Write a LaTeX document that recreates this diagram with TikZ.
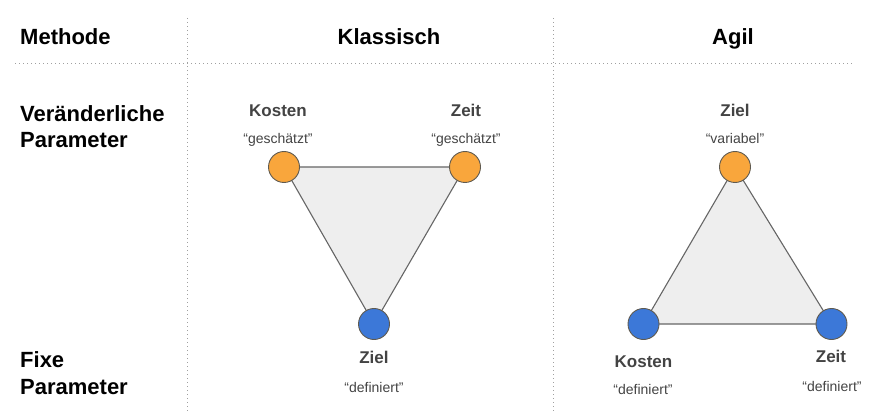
\documentclass[tikz,border=0pt]{standalone}
\usepackage{fontspec}
\setmainfont{Liberation Sans}
\usetikzlibrary{backgrounds}
\definecolor{orangefill}{HTML}{F9A63C}
\definecolor{bluefill}{HTML}{3C78D8}
\definecolor{edgegray}{HTML}{5F5A50}
\definecolor{labelgray}{HTML}{434343}
\definecolor{trifill}{HTML}{EEEEEE}
\definecolor{trigray}{HTML}{666666}
\definecolor{dotgray}{HTML}{A0A0A0}
\tikzset{
  varcirc/.style={circle,draw=edgegray,fill=orangefill,minimum size=31pt,inner sep=0pt,line width=0.9pt},
  fixcirc/.style={varcirc,fill=bluefill},
  headtext/.style={anchor=base,inner sep=0pt,font=\fontsize{22}{26}\selectfont\bfseries},
  rowtext/.style={headtext,anchor=base west},
  paramtext/.style={anchor=base,inner sep=0pt,text=labelgray,font=\fontsize{17}{20}\selectfont\bfseries},
  quotetext/.style={anchor=base,inner sep=0pt,text=labelgray,font=\fontsize{14}{17}\selectfont},
  tri/.style={draw=trigray,fill=trifill,line width=1.1pt,line join=round},
  dotline/.style={draw=dotgray,line width=1pt,dash pattern=on 1pt off 3pt}
}
\begin{document}
\begin{tikzpicture}[x=1pt,y=-1pt]
\useasboundingbox (0,0) rectangle (876,414);
% table lines
\draw[dotline] (187,18) -- (187,414);
\draw[dotline] (553,18) -- (553,414);
\draw[dotline] (15,64) -- (855,64);
% headings
\node[rowtext] (methode) at (20,45) {Methode};
\node[headtext] (klassisch) at (389,45) {Klassisch};
\node[headtext] (agil) at (733,45) {Agil};
\node[rowtext] (var1) at (20,122) {Veränderliche};
\node[rowtext] (var2) at (20,148) {Parameter};
\node[rowtext] (fix1) at (20,367) {Fixe};
\node[rowtext] (fix2) at (20,394) {Parameter};
% klassisch
\node[varcirc] (klKosten) at (284,167) {};
\node[varcirc] (klZeit) at (465,167) {};
\node[fixcirc] (klZiel) at (374,324) {};
\node[paramtext] (klKostenN) at (278,117) {Kosten};
\node[quotetext] (klKostenQ) at (278,144) {“geschätzt"};
\node[paramtext] (klZeitN) at (466,117) {Zeit};
\node[quotetext] (klZeitQ) at (466,144) {“geschätzt"};
\node[paramtext] (klZielN) at (374,363) {Ziel};
\node[quotetext] (klZielQ) at (374,392) {“definiert"};
% agil
\node[varcirc] (agZiel) at (735,167) {};
\node[fixcirc] (agKosten) at (643.5,324) {};
\node[fixcirc] (agZeit) at (831.5,324) {};
\node[paramtext] (agZielN) at (735,117) {Ziel};
\node[quotetext] (agZielQ) at (735,144) {“variabel"};
\node[paramtext] (agKostenN) at (643.5,367) {Kosten};
\node[quotetext] (agKostenQ) at (643,394) {“definiert"};
\node[paramtext] (agZeitN) at (831,362) {Zeit};
\node[quotetext] (agZeitQ) at (832,391) {“definiert"};
\begin{scope}[on background layer]
\filldraw[tri] (klKosten.center) -- (klZeit.center) -- (klZiel.center) -- cycle;
\filldraw[tri] (agZiel.center) -- (agZeit.center) -- (agKosten.center) -- cycle;
\end{scope}
\end{tikzpicture}
\end{document}
